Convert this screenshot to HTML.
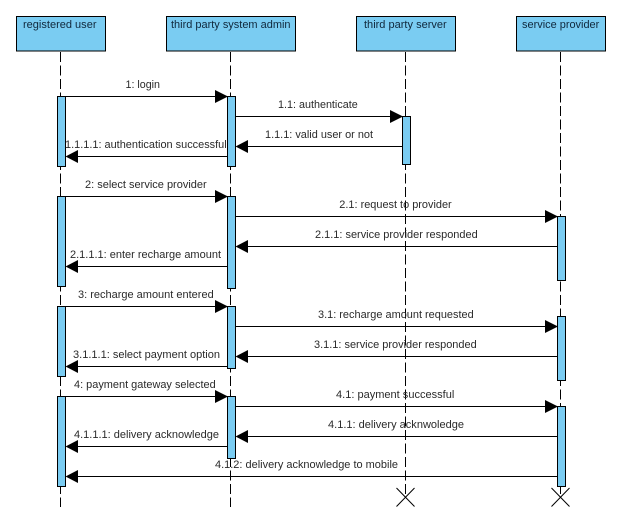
<!DOCTYPE html>
<html>
<head>
<meta charset="utf-8">
<style>
html,body{margin:0;padding:0;background:#fff;width:625px;height:518px;overflow:hidden}
svg{display:block}
text{font-family:"Liberation Sans",Arial,sans-serif;font-size:11px;fill:#2a2a2a}
.h{fill:#10283c}
.b{fill:#7accf2;stroke:#000;stroke-width:1}
.l{stroke:#000;stroke-width:1;stroke-dasharray:10 3.5;fill:none}
.m{stroke:#000;stroke-width:1;fill:none}
</style>
</head>
<body>
<svg width="625" height="518" viewBox="0 0 625 518" xmlns="http://www.w3.org/2000/svg">
<rect width="625" height="518" fill="#fff"/>
<!-- lifelines -->
<line class="l" x1="60.5" y1="52" x2="60.5" y2="507"/>
<line class="l" x1="230.5" y1="52" x2="230.5" y2="507"/>
<line class="l" x1="405.5" y1="52" x2="405.5" y2="497"/>
<line class="l" x1="560.5" y1="52" x2="560.5" y2="497"/>
<!-- header boxes -->
<rect class="b" x="16.5" y="16.5" width="89" height="34.5"/>
<rect class="b" x="166.5" y="16.5" width="129" height="34.5"/>
<rect class="b" x="356.5" y="16.5" width="99" height="34.5"/>
<rect class="b" x="516.5" y="16.5" width="89" height="34.5"/>
<text class="h" x="23" y="28" textLength="73.5" lengthAdjust="spacingAndGlyphs">registered user</text>
<text class="h" x="171" y="28" textLength="119.5" lengthAdjust="spacingAndGlyphs">third party system admin</text>
<text class="h" x="364" y="28" textLength="82.7" lengthAdjust="spacingAndGlyphs">third party server</text>
<text class="h" x="522" y="28" textLength="77.3" lengthAdjust="spacingAndGlyphs">service provider</text>
<!-- activations -->
<rect class="b" x="57.5" y="96.5" width="8" height="70"/>
<rect class="b" x="57.5" y="196.5" width="8" height="90"/>
<rect class="b" x="57.5" y="306.5" width="8" height="70"/>
<rect class="b" x="57.5" y="396.5" width="8" height="90"/>
<rect class="b" x="227.5" y="96.5" width="8" height="70"/>
<rect class="b" x="227.5" y="196.5" width="8" height="92"/>
<rect class="b" x="227.5" y="306.5" width="8" height="62"/>
<rect class="b" x="227.5" y="396.5" width="8" height="62"/>
<rect class="b" x="402.5" y="116.5" width="8" height="48"/>
<rect class="b" x="557.5" y="216.5" width="8" height="64"/>
<rect class="b" x="557.5" y="316.5" width="8" height="64"/>
<rect class="b" x="557.5" y="406.5" width="8" height="80"/>
<!-- messages -->
<g class="m">
<line x1="65.5" y1="96.5" x2="216" y2="96.5"/>
<line x1="235.5" y1="116.5" x2="391" y2="116.5"/>
<line x1="402.5" y1="146.5" x2="247" y2="146.5"/>
<line x1="227.5" y1="156.5" x2="77" y2="156.5"/>
<line x1="65.5" y1="196.5" x2="216" y2="196.5"/>
<line x1="235.5" y1="216.5" x2="546" y2="216.5"/>
<line x1="557.5" y1="246.5" x2="247" y2="246.5"/>
<line x1="227.5" y1="266.5" x2="77" y2="266.5"/>
<line x1="65.5" y1="306.5" x2="216" y2="306.5"/>
<line x1="235.5" y1="326.5" x2="546" y2="326.5"/>
<line x1="557.5" y1="356.5" x2="247" y2="356.5"/>
<line x1="227.5" y1="366.5" x2="77" y2="366.5"/>
<line x1="65.5" y1="396.5" x2="216" y2="396.5"/>
<line x1="235.5" y1="406.5" x2="546" y2="406.5"/>
<line x1="557.5" y1="436.5" x2="247" y2="436.5"/>
<line x1="227.5" y1="446.5" x2="77" y2="446.5"/>
<line x1="557.5" y1="476.5" x2="77" y2="476.5"/>
</g>
<!-- arrowheads -->
<g fill="#000">
<polygon points="228,96.5 215,90 215,103"/>
<polygon points="403,116.5 390,110 390,123"/>
<polygon points="235.5,146.5 248,140 248,153"/>
<polygon points="65.5,156.5 78,150 78,163"/>
<polygon points="228,196.5 215,190 215,203"/>
<polygon points="558,216.5 545,210 545,223"/>
<polygon points="235.5,246.5 248,240 248,253"/>
<polygon points="65.5,266.5 78,260 78,273"/>
<polygon points="228,306.5 215,300 215,313"/>
<polygon points="558,326.5 545,320 545,333"/>
<polygon points="235.5,356.5 248,350 248,363"/>
<polygon points="65.5,366.5 78,360 78,373"/>
<polygon points="228,396.5 215,390 215,403"/>
<polygon points="558,406.5 545,400 545,413"/>
<polygon points="235.5,436.5 248,430 248,443"/>
<polygon points="65.5,446.5 78,440 78,453"/>
<polygon points="65.5,476.5 78,470 78,483"/>
</g>
<!-- destroy marks -->
<g class="m">
<path d="M396.5 488 L414.5 506.5 M414.5 488 L396.5 506.5"/>
<path d="M551.5 488 L569.5 506.5 M569.5 488 L551.5 506.5"/>
</g>
<!-- labels -->
<g lengthAdjust="spacingAndGlyphs">
<text lengthAdjust="spacingAndGlyphs" x="125.5" y="88" textLength="34.5">1: login</text>
<text lengthAdjust="spacingAndGlyphs" x="278" y="108" textLength="79.7">1.1: authenticate</text>
<text lengthAdjust="spacingAndGlyphs" x="265" y="138" textLength="108">1.1.1: valid user or not</text>
<text lengthAdjust="spacingAndGlyphs" x="65" y="148" textLength="161.7">1.1.1.1: authentication successful</text>
<text lengthAdjust="spacingAndGlyphs" x="85" y="188" textLength="121.7">2: select service provider</text>
<text lengthAdjust="spacingAndGlyphs" x="339.3" y="208" textLength="112.4">2.1: request to provider</text>
<text lengthAdjust="spacingAndGlyphs" x="315" y="238" textLength="162.7">2.1.1: service provider responded</text>
<text lengthAdjust="spacingAndGlyphs" x="70" y="258" textLength="151">2.1.1.1: enter recharge amount</text>
<text lengthAdjust="spacingAndGlyphs" x="78" y="298" textLength="135.7">3: recharge amount entered</text>
<text lengthAdjust="spacingAndGlyphs" x="318" y="318" textLength="155.7">3.1: recharge amount requested</text>
<text lengthAdjust="spacingAndGlyphs" x="314" y="348" textLength="162.7">3.1.1: service provider responded</text>
<text lengthAdjust="spacingAndGlyphs" x="73" y="358" textLength="147">3.1.1.1: select payment option</text>
<text lengthAdjust="spacingAndGlyphs" x="74" y="388" textLength="141.7">4: payment gateway selected</text>
<text lengthAdjust="spacingAndGlyphs" x="336" y="398" textLength="118.3">4.1: payment successful</text>
<text lengthAdjust="spacingAndGlyphs" x="328" y="428" textLength="136">4.1.1: delivery acknwoledge</text>
<text lengthAdjust="spacingAndGlyphs" x="74" y="438" textLength="145">4.1.1.1: delivery acknowledge</text>
<text lengthAdjust="spacingAndGlyphs" x="215" y="468" textLength="183">4.1.2: delivery acknowledge to mobile</text>
</g>
</svg>
</body>
</html>
